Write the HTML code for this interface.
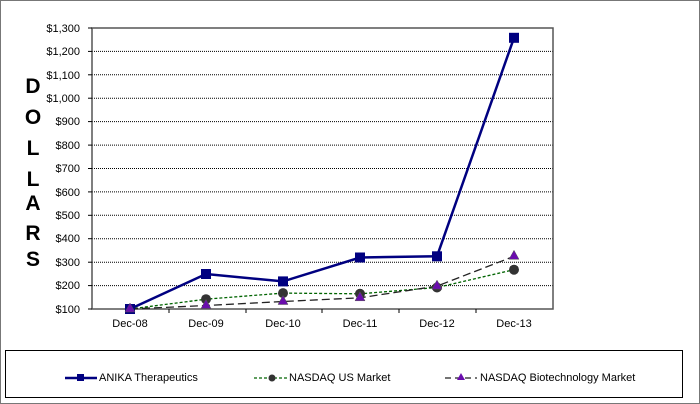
<!DOCTYPE html>
<html><head><style>body{margin:0;background:#fff}svg{display:block;font-family:"Liberation Sans",Arial,sans-serif}</style></head>
<body>
<svg width="700" height="404" viewBox="0 0 700 404">
<rect x="0.5" y="0.5" width="699" height="403" fill="#fff" stroke="#777"/>
<g stroke="#000" stroke-width="1" stroke-dasharray="1,1">
<line x1="92" x2="553" y1="51.4" y2="51.4"/><line x1="92" x2="553" y1="74.8" y2="74.8"/>
<line x1="92" x2="553" y1="98.2" y2="98.2"/><line x1="92" x2="553" y1="121.6" y2="121.6"/>
<line x1="92" x2="553" y1="145.1" y2="145.1"/><line x1="92" x2="553" y1="168.5" y2="168.5"/>
<line x1="92" x2="553" y1="191.9" y2="191.9"/><line x1="92" x2="553" y1="215.3" y2="215.3"/>
<line x1="92" x2="553" y1="238.7" y2="238.7"/><line x1="92" x2="553" y1="262.2" y2="262.2"/>
<line x1="92" x2="553" y1="285.6" y2="285.6"/>
</g>
<rect x="92" y="28" width="461" height="281" fill="none" stroke="#555" stroke-width="1.5"/>
<g stroke="#000"><line x1="88" x2="92" y1="28" y2="28"/><line x1="88" x2="92" y1="51.4" y2="51.4"/><line x1="88" x2="92" y1="74.8" y2="74.8"/><line x1="88" x2="92" y1="98.2" y2="98.2"/><line x1="88" x2="92" y1="121.6" y2="121.6"/><line x1="88" x2="92" y1="145.1" y2="145.1"/><line x1="88" x2="92" y1="168.5" y2="168.5"/><line x1="88" x2="92" y1="191.9" y2="191.9"/><line x1="88" x2="92" y1="215.3" y2="215.3"/><line x1="88" x2="92" y1="238.7" y2="238.7"/><line x1="88" x2="92" y1="262.2" y2="262.2"/><line x1="88" x2="92" y1="285.6" y2="285.6"/><line x1="88" x2="92" y1="309" y2="309"/>
<line x1="169" x2="169" y1="309" y2="313"/><line x1="246" x2="246" y1="309" y2="313"/><line x1="322" x2="322" y1="309" y2="313"/><line x1="399" x2="399" y1="309" y2="313"/><line x1="476" x2="476" y1="309" y2="313"/></g>
<g font-size="11" text-anchor="end">
<text x="80" y="32">$1,300</text><text x="80" y="55">$1,200</text><text x="80" y="79">$1,100</text><text x="80" y="102">$1,000</text><text x="80" y="125">$900</text><text x="80" y="149">$800</text><text x="80" y="172">$700</text><text x="80" y="196">$600</text><text x="80" y="219">$500</text><text x="80" y="242">$400</text><text x="80" y="266">$300</text><text x="80" y="289">$200</text><text x="80" y="313">$100</text></g>
<g font-size="11" text-anchor="middle">
<text x="130" y="327">Dec-08</text><text x="206" y="327">Dec-09</text><text x="283" y="327">Dec-10</text><text x="360" y="327">Dec-11</text><text x="437" y="327">Dec-12</text><text x="514" y="327">Dec-13</text></g>
<g font-size="21" font-weight="bold" text-anchor="middle">
<text x="33" y="93">D</text><text x="33" y="124">O</text><text x="33" y="155">L</text><text x="33" y="186">L</text><text x="33" y="210">A</text><text x="33" y="240">R</text><text x="33" y="266">S</text></g>
<polyline points="130,309 206,274 283,281.4 360,257.5 437,256.3 514,37.8" fill="none" stroke="#000080" stroke-width="2.5"/>
<polyline points="130,309 206,299.2 283,293.1 360,293.8 437,287.5 514,269.7" fill="none" stroke="#006400" stroke-width="1.3" stroke-dasharray="3,2"/>
<polyline points="130,309 206,305.5 283,301.5 360,297.8 437,286.1 514,256.3" fill="none" stroke="#222" stroke-width="1.3" stroke-dasharray="8,4"/>
<g fill="#000080"><rect x="125" y="304" width="10" height="10"/><rect x="201" y="269" width="10" height="10"/><rect x="278" y="276.4" width="10" height="10"/><rect x="355" y="252.5" width="10" height="10"/><rect x="432" y="251.3" width="10" height="10"/><rect x="509" y="32.8" width="10" height="10"/></g>
<g fill="#333"><circle cx="206" cy="299.2" r="5"/><circle cx="283" cy="293.1" r="5"/><circle cx="360" cy="293.8" r="5"/><circle cx="437" cy="287.5" r="5"/><circle cx="514" cy="269.7" r="5"/></g>
<g fill="#6a0dad" stroke="#555" stroke-width="0.5"><path d="M130,303 l5,9 h-10z"/><path d="M206,299.5 l5,9 h-10z"/><path d="M283,295.5 l5,9 h-10z"/><path d="M360,291.8 l5,9 h-10z"/><path d="M437,280.1 l5,9 h-10z"/><path d="M514,250.3 l5,9 h-10z"/></g>
<rect x="5.5" y="350.5" width="677" height="47" fill="#fff" stroke="#000"/>
<line x1="65" x2="97" y1="378" y2="378" stroke="#000080" stroke-width="2.5"/><rect x="77" y="374" width="7" height="7" fill="#000080"/>
<text x="99" y="381" font-size="11">ANIKA Therapeutics</text>
<line x1="254" x2="287" y1="378" y2="378" stroke="#006400" stroke-width="1.3" stroke-dasharray="3,2"/><circle cx="272" cy="378" r="3.5" fill="#333"/>
<text x="289" y="381" font-size="11">NASDAQ US Market</text>
<line x1="445" x2="477" y1="378" y2="378" stroke="#222" stroke-width="1.3" stroke-dasharray="6,4"/><path d="M461,373 l4,7 h-8z" fill="#6a0dad"/>
<text x="480" y="381" font-size="11">NASDAQ Biotechnology Market</text>
</svg>
</body></html>
